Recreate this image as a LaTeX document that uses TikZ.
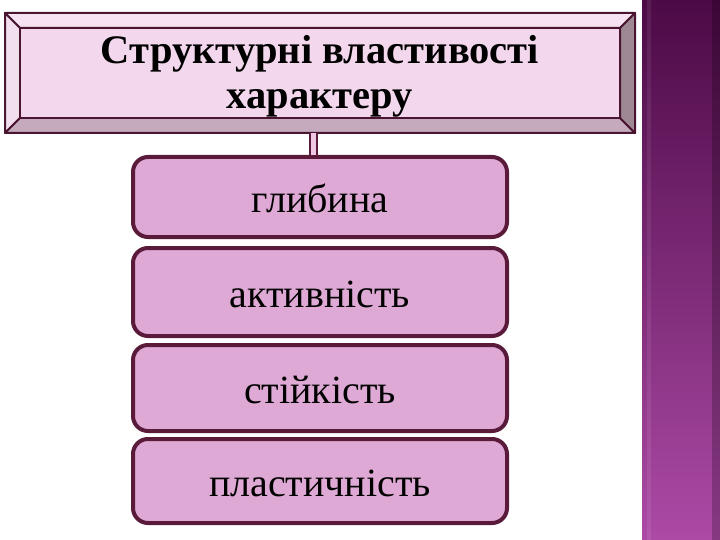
\documentclass[tikz,border=0pt]{standalone}
\usepackage{fontspec}
\setmainfont{Liberation Serif}
\begin{document}
\begin{tikzpicture}[x=1pt,y=-1pt,
  edgecol/.style={draw=framedark, line width=2pt, line join=round},
  itembox/.style={draw=boxline, fill=boxfill, line width=4pt, rounded corners=15pt,
    minimum width=374pt, inner sep=0pt, text height=31pt, text depth=0pt, font=\fontsize{40}{46}\selectfont, text=black},
  titletext/.style={font=\fontsize{40.5}{46}\selectfont\bfseries, text=black, anchor=base},
  link/.style={draw=boxline, line width=2.6pt, double=linkfill, double distance=4.5pt}
]
\definecolor{framedark}{HTML}{4A1530}
\definecolor{faceFill}{HTML}{F3D7EC}
\definecolor{bevtop}{HTML}{F6E2F1}
\definecolor{bevleft}{HTML}{F2DFEE}
\definecolor{bevbot}{HTML}{C5AABD}
\definecolor{bevright}{HTML}{9E8893}
\definecolor{boxfill}{HTML}{DEA9D4}
\definecolor{boxline}{HTML}{5A1A3A}
\definecolor{linkfill}{HTML}{F0C8E4}
\definecolor{stripTop}{HTML}{4C0A46}
\definecolor{stripMid}{HTML}{7A2A72}
\definecolor{stripBot}{HTML}{AC4AA6}
\useasboundingbox (0,0) rectangle (720,540);
\fill[white] (0,0) rectangle (720,540);
% right decorative strip
\shade[top color=stripTop, middle color=stripMid, bottom color=stripBot] (642,0) rectangle (720,540);
\fill[black, opacity=0.22] (712,0) rectangle (720,540);
\fill[white, opacity=0.08] (647,0) rectangle (651,540);
% bevelled title frame
\coordinate (o1) at (5,13); \coordinate (o2) at (635,13);
\coordinate (o3) at (635,133); \coordinate (o4) at (5,133);
\coordinate (i1) at (20,28); \coordinate (i2) at (620,28);
\coordinate (i3) at (620,118); \coordinate (i4) at (20,118);
\node[minimum width=630pt, minimum height=120pt, inner sep=0pt] (frame) at (320,73) {};
\filldraw[edgecol, fill=bevtop] (o1) -- (o2) -- (i2) -- (i1) -- cycle;
\filldraw[edgecol, fill=bevleft] (o1) -- (i1) -- (i4) -- (o4) -- cycle;
\filldraw[edgecol, fill=bevbot] (o4) -- (i4) -- (i3) -- (o3) -- cycle;
\filldraw[edgecol, fill=bevright] (o2) -- (o3) -- (i3) -- (i2) -- cycle;
\filldraw[edgecol, fill=faceFill] (i1) rectangle (i3);
\node[titletext] (t1) at (320,64) {Структурні властивості};
\node[titletext] (t2) at (320,109) {характеру};
% items
\node[itembox, minimum height=80pt] (b1) at (320,197) {глибина};
\node[itembox, minimum height=88pt] (b2) at (320,292) {активність};
\node[itembox, minimum height=86pt] (b3) at (320,388) {стійкість};
\node[itembox, minimum height=84pt] (b4) at (320,481) {пластичність};
% connector
\draw[link] ([xshift=-6.5pt]frame.south) -- ([xshift=-6.5pt]b1.north);
\end{tikzpicture}
\end{document}
